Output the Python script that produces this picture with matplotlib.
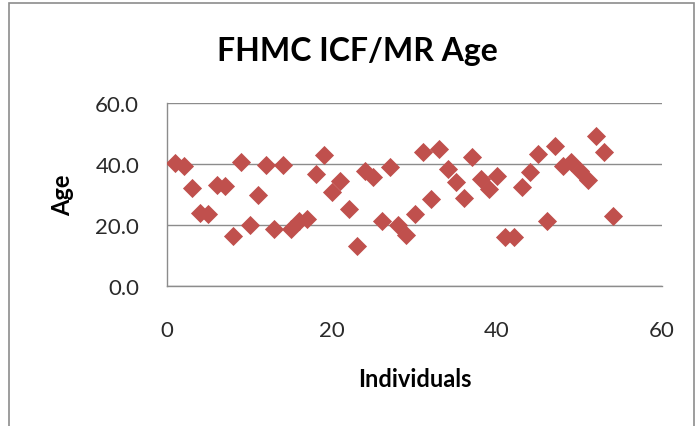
import matplotlib
matplotlib.use("Agg")
import matplotlib.pyplot as plt
from matplotlib.patches import Rectangle
from matplotlib.ticker import FormatStrFormatter

plt.rcParams['font.family'] = ['Lato', 'DejaVu Sans']

# individual number and age
individuals = list(range(1, 55))
ages = [40.3, 39.2, 32.0, 24.0, 23.6, 33.1, 32.7, 16.3, 40.7, 20.0,
        29.8, 39.6, 18.8, 39.6, 18.7, 21.4, 22.0, 36.7, 42.9, 30.7,
        34.5, 25.3, 13.3, 37.8, 35.6, 21.4, 38.9, 20.0, 16.7, 23.6,
        43.8, 28.5, 44.9, 38.3, 34.0, 28.8, 42.2, 35.1, 31.8, 36.1,
        16.0, 16.2, 32.3, 37.5, 43.2, 21.4, 45.7, 39.4, 40.7, 37.8,
        34.8, 49.0, 43.8, 23.1]

x_ticks = [0, 20, 40, 60]
y_ticks = [0, 20, 40, 60]

fig = plt.figure(figsize=(6.99, 4.27), dpi=100)

# chart area border
fig.patches.append(Rectangle((9 / 699, -0.05), (694 - 9) / 699, 1.05 - 4 / 427,
                             transform=fig.transFigure, fill=False,
                             edgecolor='#8c8c8c', linewidth=1.2))

ax = fig.add_axes([167 / 699, 1 - 287.3 / 427, (662 - 167) / 699, (287.3 - 103.7) / 427])

ax.scatter(individuals, ages, marker='D', s=95, color='#C0504D', linewidths=0, zorder=3)

ax.set_xlim(0, 60)
ax.set_ylim(0, 60)
ax.set_xticks(x_ticks)
ax.set_yticks(y_ticks)
ax.yaxis.set_major_formatter(FormatStrFormatter('%.1f'))
ax.grid(axis='y', color='#8c8c8c', linewidth=1)
ax.set_axisbelow(True)

for side in ['top', 'right']:
    ax.spines[side].set_visible(False)
for side in ['left', 'bottom']:
    ax.spines[side].set_color('#8c8c8c')
    ax.spines[side].set_linewidth(1)

ax.tick_params(axis='x', length=0, pad=24, labelsize=16, labelcolor='#2a2a2a')
ax.tick_params(axis='y', length=0, pad=20, labelsize=16, labelcolor='#2a2a2a')

fig.text(357 / 699, 1 - 52 / 427, 'FHMC ICF/MR Age', ha='center', va='center',
         fontsize=23, fontweight='bold')
ax.set_xlabel('Individuals', fontsize=17, fontweight='bold', labelpad=20)
ax.set_ylabel('Age', fontsize=17, fontweight='bold', labelpad=15)

fig.savefig('out.png', dpi=100)
